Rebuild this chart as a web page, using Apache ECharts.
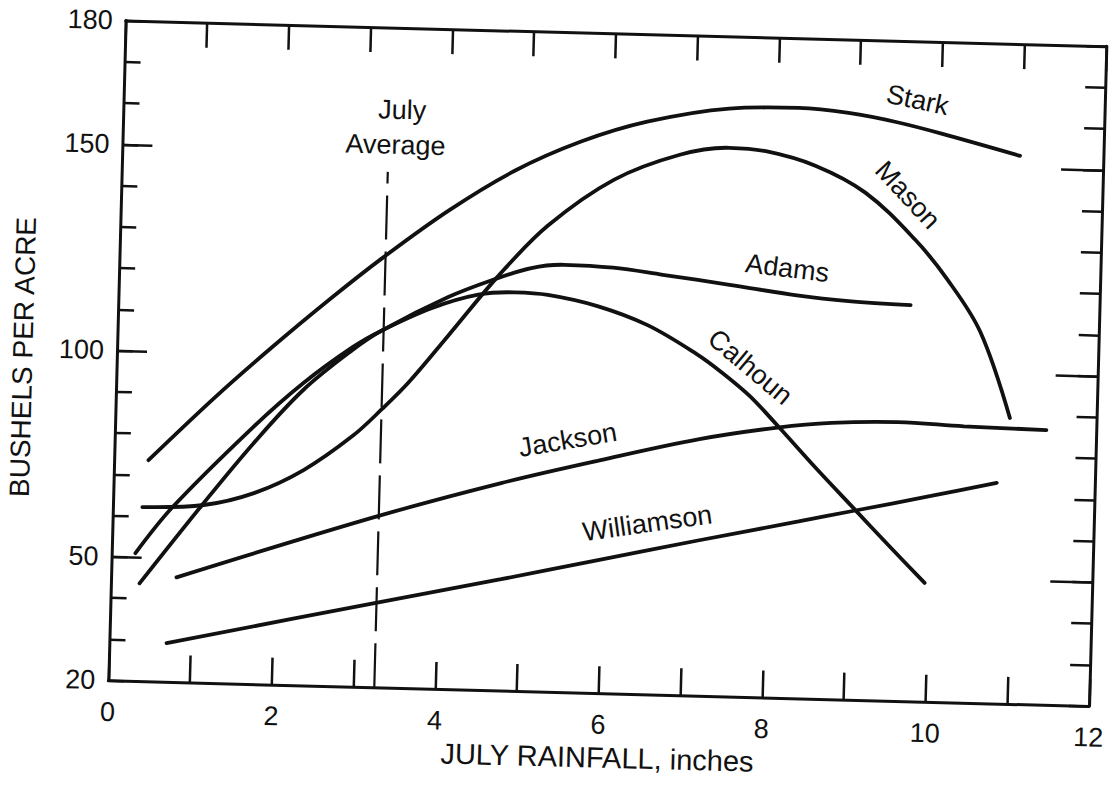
<!DOCTYPE html>
<html><head><meta charset="utf-8">
<script src="https://cdn.jsdelivr.net/npm/echarts@6/dist/echarts.min.js"></script>
<style>
html,body{margin:0;padding:0;background:#fff;overflow:hidden}
#c{width:1115px;height:790px;transform:rotate(1.5deg);transform-origin:557.5px 395px;background:#fff}
</style></head><body><div id="c"></div>
<script>
// ---- data ----
const xTickLabels = [0, 2, 4, 6, 8, 10, 12];
const yTickLabels = [20, 50, 100, 150, 180];
const yMajorTicks = [50, 100, 150];
const julyAverage = 3.25;
const julyAverageTop = 145;

const starkX = [0.42, 1.20, 1.88, 2.60, 3.21, 4.01, 4.80, 5.60, 6.41, 7.41, 8.26, 8.87, 9.48, 10.09, 10.98];
const starkY = [73.6, 89.0, 101.5, 114.0, 124.0, 136.0, 146.0, 153.5, 158.8, 162.5, 163.1, 162.2, 160.2, 157.4, 152.9];

const masonX = [0.36, 1.11, 1.72, 2.32, 2.91, 3.26, 3.58, 4.05, 4.64, 5.23, 6.02, 6.82, 7.42, 7.87, 8.48, 9.10, 9.72, 10.13, 10.55, 10.94];
const masonY = [62.2, 63.1, 66.3, 72.2, 80.8, 87.5, 94.2, 105.8, 120.5, 133.0, 144.5, 151.0, 153.0, 152.4, 149.2, 143.0, 132.0, 122.5, 110.0, 89.3];

const adamsX = [0.35, 1.09, 1.70, 2.29, 2.88, 3.24, 4.04, 4.56, 5.04, 5.44, 6.04, 6.65, 7.47, 8.32, 8.93, 9.69];
const adamsY = [43.7, 63.1, 78.4, 91.6, 101.6, 106.6, 115.1, 119.4, 122.6, 123.6, 123.2, 121.8, 119.8, 117.6, 116.6, 116.0];

const calhounX = [0.29, 0.73, 1.69, 2.29, 2.88, 3.24, 3.84, 4.40, 4.84, 5.25, 5.86, 6.48, 7.09, 7.41, 7.75, 8.10, 8.58, 9.08, 9.49, 9.95];
const calhounY = [51.0, 62.4, 82.3, 93.3, 102.3, 106.6, 112.3, 115.8, 116.6, 116.2, 113.8, 109.5, 102.8, 98.4, 93.0, 86.0, 76.0, 66.0, 57.8, 48.8];

const jacksonX = [0.80, 3.21, 4.74, 5.95, 7.15, 8.10, 8.76, 9.57, 10.38, 11.39];
const jacksonY = [45.4, 61.3, 70.3, 76.5, 82.2, 85.5, 87.0, 87.6, 87.0, 86.6];

const williamsonX = [0.70, 3.23, 4.77, 5.98, 7.18, 8.39, 9.08, 10.00, 10.80];
const williamsonY = [29.4, 40.4, 47.0, 52.4, 57.7, 62.9, 65.9, 69.9, 73.5];

const curveNames = ['Stark', 'Mason', 'Adams', 'Calhoun', 'Jackson', 'Williamson'];
const curveXs = [starkX, masonX, adamsX, calhounX, jacksonX, williamsonX];
const curveYs = [starkY, masonY, adamsY, calhounY, jacksonY, williamsonY];

// ---- annotation placement (data coords + rotation in degrees) ----
const curveLabels = [
  {text: 'Stark', at: [9.71, 165.8], rot: -10.5},
  {text: 'Mason', at: [9.62, 142.7], rot: -45.5},
  {text: 'Adams', at: [8.17, 124.2], rot: -5.5},
  {text: 'Calhoun', at: [7.75, 100.0], rot: -38.5},
  {text: 'Jackson', at: [5.54, 81.2], rot: 11},
  {text: 'Williamson', at: [6.54, 61.5], rot: 9.5},
  {text: 'July', at: [3.41, 160.1], rot: 0},
  {text: 'Average', at: [3.34, 151.6], rot: 0}
];

const INK = '#111';
const FONT = 'Liberation Sans, Arial, Helvetica, sans-serif';

const chart = echarts.init(document.getElementById('c'), null, {renderer: 'svg'});

function pairs(xs, ys) { return xs.map((x, i) => [x, ys[i]]); }

const series = curveNames.map((n, i) => ({
  name: n, type: 'line', data: pairs(curveXs[i], curveYs[i]),
  xAxisIndex: 0, yAxisIndex: 0, smooth: 0.35, symbol: 'none',
  lineStyle: {color: INK, width: 3.8, cap: 'round'}, silent: true
}));
series.push({
  name: 'July Average', type: 'line', data: [], xAxisIndex: 0, yAxisIndex: 0,
  markLine: {
    silent: true, symbol: 'none', label: {show: false},
    lineStyle: {color: INK, width: 2.2, type: [44, 12]},
    data: [[{coord: [julyAverage, 20]}, {coord: [julyAverage, julyAverageTop]}]]
  }
});

const yBase = {type: 'value', min: 20, max: 180, splitLine: {show: false}};
const xBase = {type: 'value', min: 0, max: 12, interval: 1, splitLine: {show: false}};

chart.setOption({
  animation: false,
  backgroundColor: '#fff',
  grid: {left: 111, top: 32, width: 990, height: 660, containLabel: false},
  xAxis: [
    Object.assign({}, xBase, {
      position: 'bottom',
      name: 'JULY RAINFALL, inches', nameLocation: 'middle', nameGap: 40,
      nameTextStyle: {color: INK, fontSize: 29, fontFamily: FONT},
      axisLine: {lineStyle: {color: INK, width: 3}},
      axisTick: {inside: true, length: 27, lineStyle: {color: INK, width: 2.5}},
      axisLabel: {customValues: xTickLabels, color: INK, fontSize: 27, fontFamily: FONT, margin: 18}
    }),
    Object.assign({}, xBase, {
      position: 'top',
      axisLine: {lineStyle: {color: INK, width: 3}},
      axisTick: {inside: true, length: 25, lineStyle: {color: INK, width: 2.5}},
      axisLabel: {show: false}
    })
  ],
  yAxis: [
    Object.assign({}, yBase, {
      position: 'left', interval: 10,
      name: 'BUSHELS PER ACRE', nameLocation: 'middle', nameGap: 80,
      nameTextStyle: {color: INK, fontSize: 28, fontFamily: FONT, padding: [0, 18, 0, 0]},
      axisLine: {lineStyle: {color: INK, width: 3}},
      axisTick: {inside: true, length: 16, lineStyle: {color: INK, width: 2.5}},
      axisLabel: {customValues: yTickLabels, color: INK, fontSize: 27, fontFamily: FONT, margin: 13}
    }),
    Object.assign({}, yBase, {
      position: 'left',
      axisLine: {show: false},
      axisTick: {inside: true, length: 30, customValues: yMajorTicks, lineStyle: {color: INK, width: 2.5}},
      axisLabel: {show: false}
    }),
    Object.assign({}, yBase, {
      position: 'right', interval: 10,
      axisLine: {lineStyle: {color: INK, width: 3}},
      axisTick: {inside: true, length: 20, lineStyle: {color: INK, width: 2.5}},
      axisLabel: {show: false}
    }),
    Object.assign({}, yBase, {
      position: 'right',
      axisLine: {show: false},
      axisTick: {inside: true, length: 42, customValues: yMajorTicks, lineStyle: {color: INK, width: 2.5}},
      axisLabel: {show: false}
    })
  ],
  series: series
});

const graphics = curveLabels.map(l => {
  const p = chart.convertToPixel({xAxisIndex: 0, yAxisIndex: 0}, l.at);
  return {
    type: 'text', x: p[0], y: p[1], rotation: l.rot * Math.PI / 180, silent: true,
    style: {text: l.text, fill: INK, font: '27px ' + FONT, align: 'center', verticalAlign: 'middle'}
  };
});
chart.setOption({graphic: graphics});
</script>
</body></html>
